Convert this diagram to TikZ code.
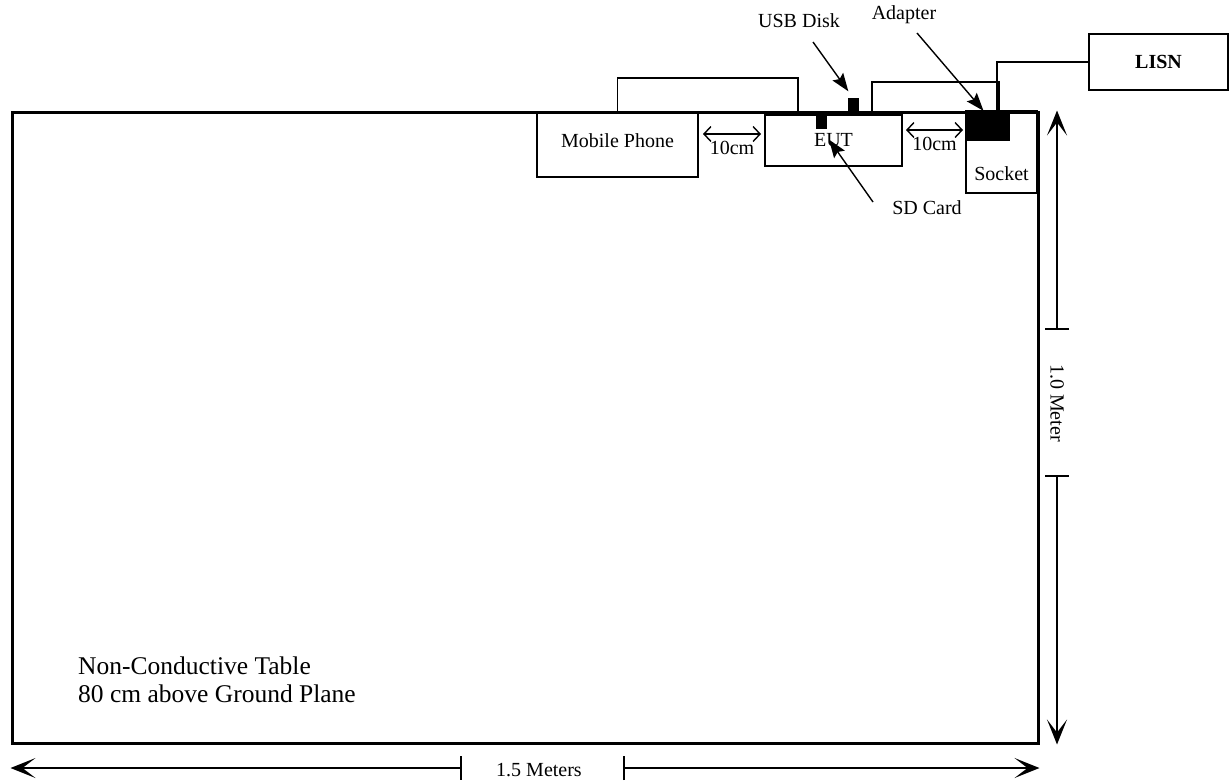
\documentclass[tikz,border=0pt]{standalone}
\usepackage{fontspec}
\setmainfont{Liberation Serif}
\usepackage{tikz}
\usetikzlibrary{positioning,arrows.meta,calc}
\tikzset{
  box/.style={draw,line width=1.6pt,inner sep=0pt},
  plug/.style={draw,fill=black,inner sep=0pt},
  txt/.style={font=\fontsize{20}{24}\selectfont,inner sep=1pt},
  bigtxt/.style={font=\fontsize{25.5}{27.5}\selectfont,inner sep=0pt,align=left},
  wire/.style={line width=1.6pt},
  gap/.style={{Straight Barb[length=7pt,width=15pt]}-{Straight Barb[length=7pt,width=15pt]},line width=1.4pt},
  pointer/.style={-{Stealth[length=18pt,width=13pt,inset=3pt]},line width=1.4pt},
  dim/.style={{Bar[width=24pt]}-{Stealth[length=25pt,width=20pt,inset=13pt]},line width=1.7pt},
}

\begin{document}
\begin{tikzpicture}[x=1pt,y=-1pt]
  \useasboundingbox (0,0) rectangle (1231,780);
  % table and the things on it
  \node[box,line width=3pt,minimum width=1026pt,minimum height=631pt] (table) at (525,427.5) {};
  \node[bigtxt,anchor=west] (tbltxt) at (78,680) {Non-Conductive Table\\80 cm above Ground Plane};
  \node[box,txt,minimum width=161pt,minimum height=64pt,text depth=9pt] (phone) at (617.5,145) {Mobile Phone};
  \node[box,txt,minimum width=137pt,minimum height=51pt] (eut) at (833.5,140.5) {EUT};
  \node[plug,minimum width=10pt,minimum height=16pt] (sd) at (821,120) {};
  \node[plug,minimum width=10pt,minimum height=14pt] (usb) at (853,105) {};
  \node[box,minimum width=71pt,minimum height=82pt,
    label={[txt,anchor=south,yshift=12pt]south:Socket}] (socket) at (1001.5,152) {};
  \node[plug,minimum width=43pt,minimum height=29pt] (adapter) at (987.5,125.5) {};
  \node[box,txt,font=\fontsize{20}{24}\selectfont\bfseries,minimum width=139pt,minimum height=56pt] (lisn) at (1158.5,62) {LISN};
  % cables
  \draw[wire] (phone.north) -- ++(0,-34) -| ([xshift=34pt]eut.north west);
  \draw[wire] ([xshift=-31pt]eut.north east) -- ++(0,-32) -| ([xshift=-10.5pt]adapter.north east);
  \draw[wire] ([xshift=9.5pt]adapter.north) |- (lisn.west);
  % spacing
  \coordinate (g1a) at (703,134);
  \coordinate (g1b) at (761,134);
  \coordinate (g2a) at (906,130);
  \coordinate (g2b) at (963,130);
  \draw[gap] (g1a) -- node[txt,below=5pt] (gap1) {10cm} (g1b);
  \draw[gap] (g2a) -- node[txt,below=5pt] (gap2) {10cm} (g2b);
  % labels
  \node[txt] (usblbl) at (799,21) {USB Disk};
  \node[txt] (adplbl) at (904,15) {Adapter};
  \node[txt] (sdlbl) at (927,208) {SD Card};
  \coordinate (usbtail) at (813,42);
  \coordinate (adptail) at (917,33);
  \coordinate (sdtail) at (873,202);
  \draw[pointer,shorten >=8pt] (usbtail) -- (usb.north);
  \draw[pointer] (adptail) -- ([xshift=-4pt]adapter.north);
  \draw[pointer,shorten >=14pt] (sdtail) -- (sd.south);
  % dimensions
  \node[txt,rotate=-90] (vlbl) at (1057,403) {1.0 Meter};
  \node[txt] (hlbl) at (539,770) {1.5 Meters};
  \coordinate (vt1) at (1057,330);
  \coordinate (vt2) at (1057,475);
  \coordinate (ht1) at (462,768);
  \coordinate (ht2) at (623,768);
  \draw[dim] (vt1) -- (vt1 |- table.north);
  \draw[dim] (vt2) -- (vt2 |- table.south);
  \draw[dim] (ht1) -- (ht1 -| table.west);
  \draw[dim] (ht2) -- (ht2 -| table.east);
\end{tikzpicture}
\end{document}
